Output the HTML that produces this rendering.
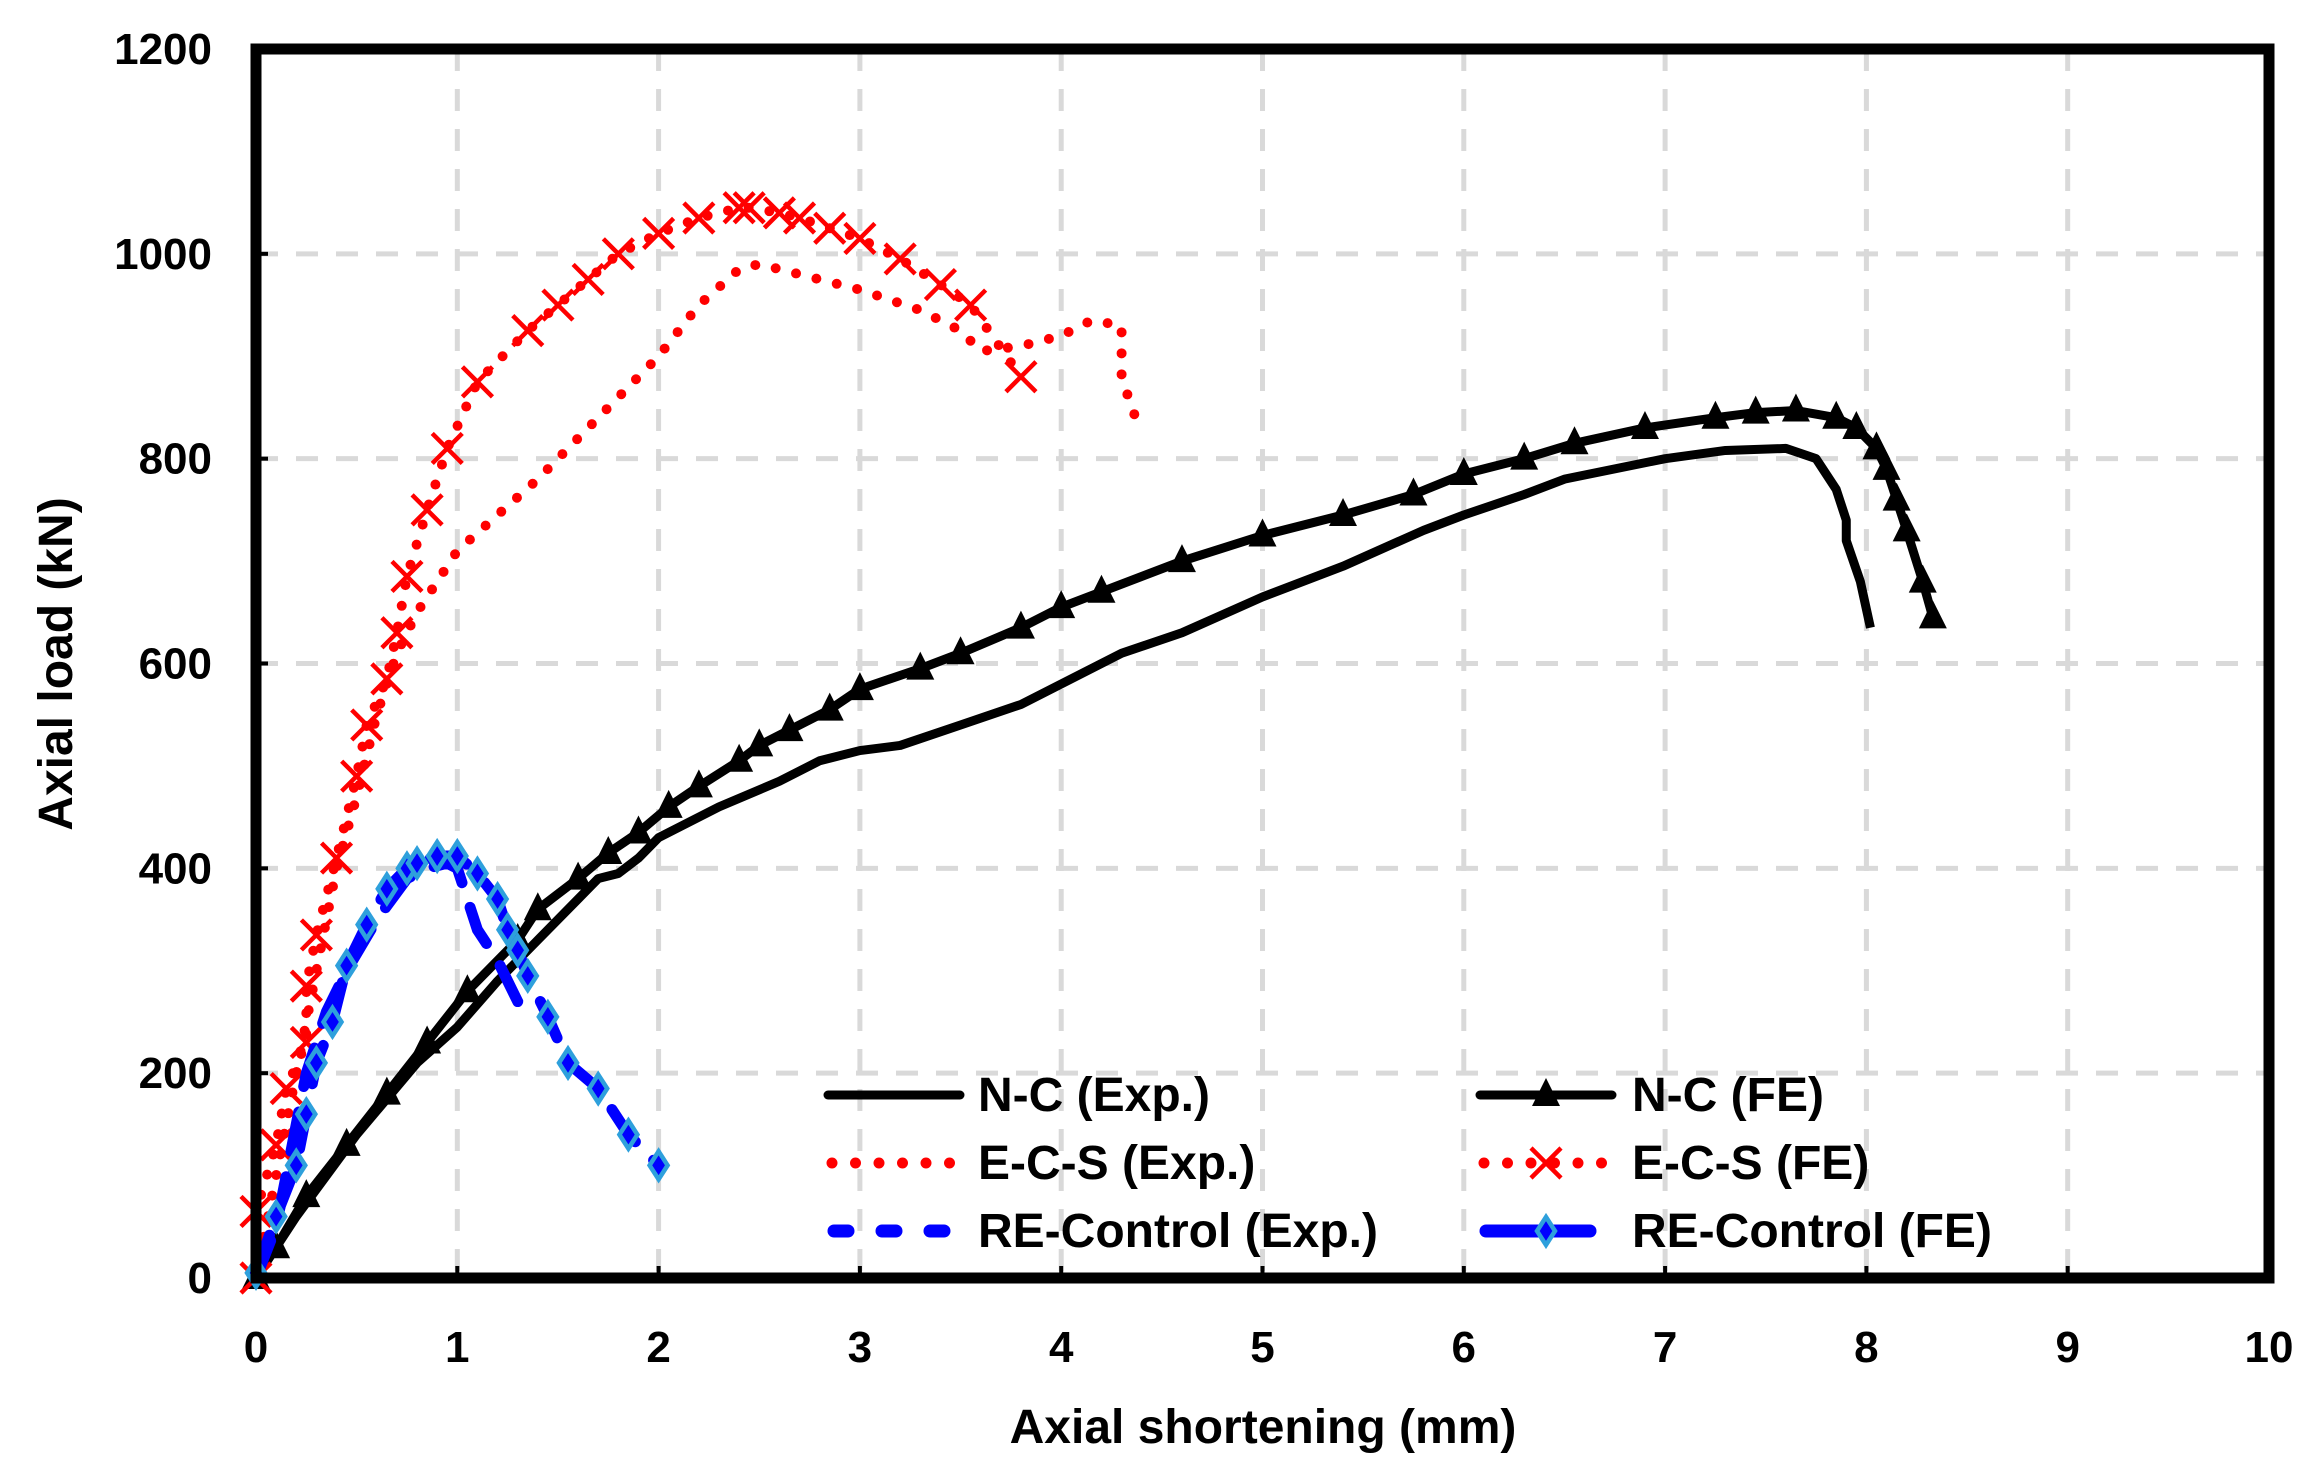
<!DOCTYPE html>
<html><head><meta charset="utf-8"><style>
body{margin:0;background:#fff}
svg{display:block;font-family:"Liberation Sans",sans-serif;font-weight:bold}
</style></head><body>
<svg id="chart" width="2318" height="1484" viewBox="0 0 2318 1484">
<g id="grid"></g>
<g id="series"></g>
<g id="axes"></g>
<text x="1263" y="1443" font-size="48" text-anchor="middle">Axial shortening (mm)</text>
<text transform="translate(72,664) rotate(-90)" font-size="48" text-anchor="middle">Axial load (kN)</text>
<g id="legend"></g>
</svg>
<script>
const xTicks=[0,1,2,3,4,5,6,7,8,9,10];
const yTicks=[0,200,400,600,800,1000,1200];
const ncExpX=[0,0.2,0.5,0.8,1,1.2,1.4,1.6,1.7,1.8,1.9,2,2.3,2.6,2.8,3,3.2,3.5,3.8,4,4.3,4.6,5,5.4,5.8,6,6.3,6.5,7,7.3,7.6,7.75,7.85,7.9,7.9,7.97,8.02];
const ncExpY=[0,60,140,210,245,290,330,370,390,395,410,430,460,485,505,515,520,540,560,580,610,630,665,695,730,745,765,780,800,808,810,800,770,740,720,680,635];
const ncFeX=[0,0.1,0.25,0.45,0.65,0.85,1.05,1.3,1.4,1.6,1.75,1.9,2.05,2.2,2.4,2.5,2.65,2.85,3,3.3,3.5,3.8,4,4.2,4.6,5,5.4,5.75,6,6.3,6.55,6.9,7.25,7.45,7.65,7.85,7.95,8.05,8.1,8.15,8.2,8.28,8.33];
const ncFeY=[0,30,80,130,180,230,280,330,360,390,415,435,460,480,505,520,535,555,575,595,610,635,655,670,700,725,745,765,785,800,815,830,840,845,847,840,830,810,790,760,730,680,645];
const ecsExpX=[0,0.05,0.1,0.2,0.3,0.4,0.5,0.6,0.7,0.8,0.9,1,1.2,1.4,1.6,1.8,2,2.2,2.4,2.5,2.8,3,3.3,3.5,3.6,3.8,4,4.15,4.3,4.3,4.35,4.4];
const ecsExpY=[0,50,100,200,300,400,470,550,610,650,680,710,745,780,820,860,900,950,985,990,975,965,945,925,905,910,920,935,930,880,850,825];
const ecsFeX=[0,0,0.1,0.15,0.25,0.25,0.3,0.4,0.5,0.55,0.65,0.7,0.75,0.85,0.95,1.1,1.35,1.5,1.65,1.8,2,2.2,2.4,2.45,2.6,2.7,2.85,3,3.2,3.4,3.55,3.8];
const ecsFeY=[0,65,130,185,230,285,335,410,490,540,585,630,685,750,810,875,925,950,975,1000,1020,1035,1045,1045,1040,1035,1025,1015,995,970,950,880];
const reExpX=[0,0.1,0.15,0.2,0.25,0.35,0.45,0.6,0.75,0.85,0.95,1,1.05,1.1,1.2,1.3,1.3];
const reExpY=[0,50,100,150,200,260,300,350,390,400,405,400,370,340,310,270,255];
const reFeX=[0,0.1,0.2,0.25,0.3,0.38,0.45,0.55,0.65,0.75,0.8,0.9,1,1.1,1.2,1.25,1.3,1.35,1.45,1.55,1.7,1.85,2];
const reFeY=[5,60,110,160,210,250,305,345,380,400,405,412,412,395,370,340,320,295,255,210,185,140,110];

const L=256,R=2269,T=49,B=1278;
const sx=v=>L+(R-L)*v/10, sy=v=>B-(B-T)*v/1200;
const NS="http://www.w3.org/2000/svg";
function mk(tag,attrs,parent){const e=document.createElementNS(NS,tag);for(const k in attrs)e.setAttribute(k,attrs[k]);parent.appendChild(e);return e;}
const grid=document.getElementById('grid'),axes=document.getElementById('axes'),ser=document.getElementById('series'),leg=document.getElementById('legend');
xTicks.forEach(t=>{
  if(t>0&&t<10){const g=mk('line',{x1:sx(t),x2:sx(t),y1:T,y2:B,stroke:'#d9d9d9','stroke-width':5,'stroke-dasharray':'22,18'},grid);
  
  
  const tk=mk('line',{x1:sx(t),x2:sx(t),y1:B,y2:B-12,stroke:'#000','stroke-width':4},axes);
  
  }
  const tx=mk('text',{x:sx(t),y:1362,'font-size':44,'text-anchor':'middle'},axes);tx.textContent=t;
  
  
});
yTicks.forEach(t=>{
  if(t>0&&t<1200){const g=mk('line',{x1:L,x2:R,y1:sy(t),y2:sy(t),stroke:'#d9d9d9','stroke-width':5,'stroke-dasharray':'22,18'},grid);
  
  
  const tk=mk('line',{x1:L,x2:L+12,y1:sy(t),y2:sy(t),stroke:'#000','stroke-width':4},axes);
  
  }
  const tx=mk('text',{x:212,y:sy(t)+15,'font-size':44,'text-anchor':'end'},axes);tx.textContent=t;
  
  
});
const fr=mk('rect',{x:L,y:T,width:R-L,height:B-T,fill:'none',stroke:'#000','stroke-width':11},axes);



function pts(X,Y){return X.map((x,i)=>sx(x)+','+sy(Y[i])).join(' ');}
function tri(x,y,p){return mk('polygon',{points:`${x},${y-17} ${x-14},${y+11} ${x+14},${y+11}`,fill:'#000'},p);}
function cross(x,y,p){return mk('path',{d:`M${x-15},${y-15}L${x+15},${y+15}M${x+15},${y-15}L${x-15},${y+15}`,stroke:'#f00','stroke-width':4.5,fill:'none'},p);}
function dia(x,y,p){return mk('polygon',{points:`${x},${y-14} ${x+9},${y} ${x},${y+14} ${x-9},${y}`,fill:'#0000ff',stroke:'#2ea0dc','stroke-width':4.5},p);}

let e;
e=mk('polyline',{points:pts(ncExpX,ncExpY),fill:'none',stroke:'#000','stroke-width':9,'stroke-linejoin':'round'},ser);


e=mk('polyline',{points:pts(ncFeX,ncFeY),fill:'none',stroke:'#000','stroke-width':9,'stroke-linejoin':'round'},ser);


ncFeX.forEach((x,i)=>{const m=tri(sx(x),sy(ncFeY[i]),ser);

});
e=mk('polyline',{points:pts(ecsExpX,ecsExpY),fill:'none',stroke:'#f00','stroke-width':10,'stroke-linecap':'round','stroke-dasharray':'0,21'},ser);


e=mk('polyline',{points:pts(ecsFeX,ecsFeY),fill:'none',stroke:'#f00','stroke-width':10,'stroke-linecap':'round','stroke-dasharray':'0,21'},ser);


ecsFeX.forEach((x,i)=>{const m=cross(sx(x),sy(ecsFeY[i]),ser);

});
e=mk('polyline',{points:pts(reExpX,reExpY),fill:'none',stroke:'#0000ff','stroke-width':11,'stroke-linecap':'round','stroke-dasharray':'40,26'},ser);


e=mk('polyline',{points:pts(reFeX,reFeY),fill:'none',stroke:'#0000ff','stroke-width':11,'stroke-linecap':'round','stroke-dasharray':'40,26'},ser);


reFeX.forEach((x,i)=>{const m=dia(sx(x),sy(reFeY[i]),ser);

});

// legend
const rows=[1095,1163,1231];
function legText(x,y,s){const t=mk('text',{x:x,y:y+16,'font-size':48},leg);t.textContent=s;

}
const c1=828,c2=1480,w=132;
e=mk('line',{x1:c1,x2:c1+w,y1:rows[0],y2:rows[0],stroke:'#000','stroke-width':9,'stroke-linecap':'round'},leg);


legText(978,rows[0],'N-C (Exp.)');
e=mk('line',{x1:c1+4,x2:c1+w,y1:rows[1],y2:rows[1],stroke:'#f00','stroke-width':11,'stroke-linecap':'round','stroke-dasharray':'0,23.5'},leg);


legText(978,rows[1],'E-C-S (Exp.)');
e=mk('line',{x1:c1+6,x2:c1+w-6,y1:rows[2],y2:rows[2],stroke:'#0000ff','stroke-width':13,'stroke-linecap':'round','stroke-dasharray':'14,34'},leg);


legText(978,rows[2],'RE-Control (Exp.)');
e=mk('line',{x1:c2,x2:c2+w,y1:rows[0],y2:rows[0],stroke:'#000','stroke-width':9,'stroke-linecap':'round'},leg);


e=tri(c2+w/2,rows[0],leg);


legText(1632,rows[0],'N-C (FE)');
e=mk('line',{x1:c2+4,x2:c2+w,y1:rows[1],y2:rows[1],stroke:'#f00','stroke-width':11,'stroke-linecap':'round','stroke-dasharray':'0,23.5'},leg);


e=cross(c2+w/2,rows[1],leg);


legText(1632,rows[1],'E-C-S (FE)');
e=mk('line',{x1:c2+6,x2:c2+110,y1:rows[2],y2:rows[2],stroke:'#0000ff','stroke-width':13,'stroke-linecap':'round'},leg);


e=dia(c2+w/2,rows[2],leg);


legText(1632,rows[2],'RE-Control (FE)');
</script>
</body></html>
